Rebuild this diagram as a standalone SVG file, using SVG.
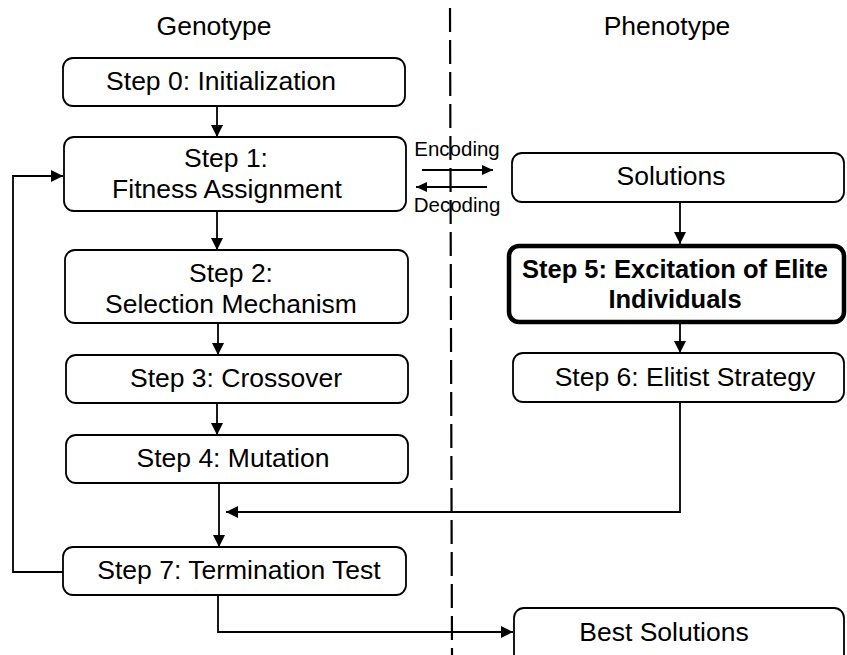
<svg xmlns="http://www.w3.org/2000/svg" width="847" height="655" viewBox="0 0 847 655">
<defs>
<marker id="ah" markerWidth="12" markerHeight="12" refX="12" refY="6" orient="auto" markerUnits="userSpaceOnUse">
<path d="M0,0 L12,6 L0,12 z" fill="#000"/>
</marker>
<marker id="ahs" markerWidth="11" markerHeight="10" refX="11" refY="5" orient="auto" markerUnits="userSpaceOnUse">
<path d="M0,0 L11,5 L0,10 z" fill="#000"/>
</marker>
<style>
.box{fill:#fff;stroke:#000;stroke-width:1.8}
.bold{fill:#fff;stroke:#000;stroke-width:4.5}
.t{font-family:"Liberation Sans",Arial,sans-serif;font-size:26.5px;fill:#000;text-anchor:middle}
.tb{font-family:"Liberation Sans",Arial,sans-serif;font-size:25.5px;font-weight:bold;fill:#000;text-anchor:middle}
.s{font-family:"Liberation Sans",Arial,sans-serif;font-size:20.5px;fill:#000;text-anchor:middle}
.c{fill:none;stroke:#000;stroke-width:1.8}
.d{fill:none;stroke:#000;stroke-width:2.2;stroke-dasharray:24 8}
</style>
</defs>
<rect width="847" height="655" fill="#fff"/>
<line class="d" x1="450" y1="8" x2="452" y2="655"/>
<text class="t" x="214" y="35">Genotype</text>
<text class="t" x="667" y="35">Phenotype</text>
<g id="connectors">
<line class="c" x1="217" y1="106" x2="217" y2="137" marker-end="url(#ah)"/>
<line class="c" x1="217" y1="211" x2="217" y2="250" marker-end="url(#ah)"/>
<line class="c" x1="218" y1="323" x2="218" y2="355" marker-end="url(#ah)"/>
<line class="c" x1="217" y1="403" x2="217" y2="435" marker-end="url(#ah)"/>
<line class="c" x1="219" y1="483" x2="219" y2="547" marker-end="url(#ah)"/>
<polyline class="c" points="63,572 13,572 13,176 63,176" marker-end="url(#ah)"/>
<polyline class="c" points="218,595 218,632 513,632" marker-end="url(#ah)"/>
<line class="c" x1="680" y1="202" x2="680" y2="244" marker-end="url(#ah)"/>
<line class="c" x1="680" y1="324" x2="680" y2="353" marker-end="url(#ah)"/>
<polyline class="c" points="680,402 680,512 226,512" marker-end="url(#ah)"/>
<line class="c" x1="422" y1="170" x2="493" y2="170" marker-end="url(#ahs)"/>
<line class="c" x1="487" y1="187" x2="416" y2="187" marker-end="url(#ahs)"/>
<text class="s" x="457" y="156">Encoding</text>
<text class="s" x="457" y="212">Decoding</text>
</g>
<g id="step0">
<rect class="box" x="63" y="58" width="342" height="48" rx="10"/>
<text class="t" x="221" y="90">Step 0: Initialization</text>
</g>
<g id="step1">
<rect class="box" x="64" y="137" width="342" height="74" rx="10"/>
<text class="t" x="226" y="167">Step 1:</text>
<text class="t" x="227" y="198">Fitness Assignment</text>
</g>
<g id="step2">
<rect class="box" x="65" y="250" width="343" height="73" rx="10"/>
<text class="t" x="231" y="282">Step 2:</text>
<text class="t" x="231" y="313">Selection Mechanism</text>
</g>
<g id="step3">
<rect class="box" x="66" y="355" width="342" height="48" rx="10"/>
<text class="t" x="236" y="387">Step 3: Crossover</text>
</g>
<g id="step4">
<rect class="box" x="66" y="435" width="342" height="48" rx="10"/>
<text class="t" x="233" y="467">Step 4: Mutation</text>
</g>
<g id="step7">
<rect class="box" x="63" y="547" width="343" height="48" rx="10"/>
<text class="t" x="239" y="579">Step 7: Termination Test</text>
</g>
<g id="solutions">
<rect class="box" x="512" y="153" width="332" height="49" rx="10"/>
<text class="t" x="671" y="185">Solutions</text>
</g>
<g id="step5">
<rect class="bold" x="509" y="246" width="335" height="76" rx="10"/>
<text class="tb" x="675" y="278">Step 5: Excitation of Elite</text>
<text class="tb" x="675" y="308">Individuals</text>
</g>
<g id="step6">
<rect class="box" x="513" y="353" width="331" height="49" rx="10"/>
<text class="t" x="685" y="386">Step 6: Elitist Strategy</text>
</g>
<g id="best">
<rect class="box" x="514" y="608" width="330" height="60" rx="10"/>
<text class="t" x="664" y="641">Best Solutions</text>
</g>
</svg>
